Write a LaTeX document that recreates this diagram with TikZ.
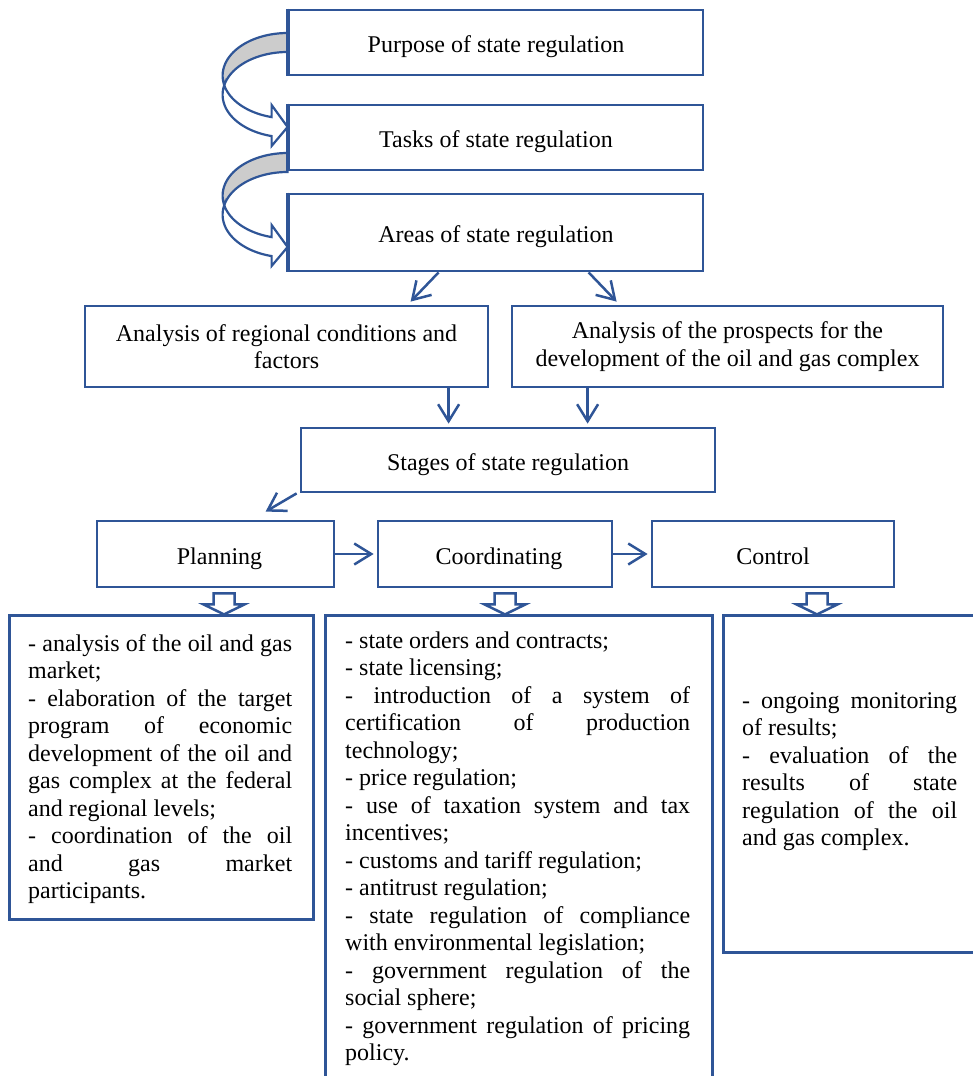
\documentclass[tikz,border=0pt]{standalone}
\usepackage{fontspec}
\setmainfont{Liberation Serif}
\usetikzlibrary{arrows.meta,calc}
\definecolor{bl}{RGB}{47,85,151}
\definecolor{bandgray}{RGB}{204,204,204}
\begin{document}
\begin{tikzpicture}[x=1pt,y=-1pt,
  font=\fontsize{24pt}{27.5pt}\selectfont,
  box/.style={draw=bl, line width=2.8pt, fill=white, inner sep=0pt, align=center},
  single/.style={text height=25pt, text depth=5pt},
  conn/.style={draw=bl, line width=2.5pt, -{Straight Barb[length=17pt,width=21pt]}},
  listtext/.style={inner sep=0pt, align=justify, anchor=base west},
  blockarrow/.pic={\draw[bl, line width=2.5pt, fill=white, line join=miter]
     (-10.5,-21) -- (10.5,-21) -- (10.5,-10) -- (20.5,-10) -- (0,0) -- (-20.5,-10) -- (-10.5,-10) -- cycle;},
  curvedarrow/.pic={
     \draw[bl, line width=2.2pt, fill=bandgray]
       plot[domain=90:192.86,samples=30,variable=\t]({65*cos(\t)},{42.7-42.7*sin(\t)})
       -- plot[domain=167.14:90,samples=30,variable=\t]({65*cos(\t)},{61.7-42.7*sin(\t)}) -- cycle;
     \draw[bl, line width=2.2pt, fill=white, line join=miter]
       plot[domain=192.86:255.75,samples=30,variable=\t]({65*cos(\t)},{42.7-42.7*sin(\t)})
       -- (-16,72) -- (0,94) -- (-16,113)
       -- plot[domain=255.75:167.14,samples=40,variable=\t]({65*cos(\t)},{61.7-42.7*sin(\t)}) -- cycle;}
]
\useasboundingbox (0,0) rectangle (973,1076);
\fill[white] (0,0) rectangle (973,1076);

% top chain
\node[box, single, minimum width=414pt, minimum height=65pt] (purpose) at (496,42.5) {Purpose of state regulation};
\node[box, single, minimum width=414pt, minimum height=65pt] (tasks) at (496,137.5) {Tasks of state regulation};
\node[box, single, minimum width=414pt, minimum height=77pt] (areas) at (496,232.5) {Areas of state regulation};

\pic at ($(purpose.west)+(0,-9.5)$) {curvedarrow};
\pic at ($(tasks.west)+(0,15.5)$) {curvedarrow};
\draw[bl, line width=2.8pt] (purpose.north west) -- (purpose.south west);
\draw[bl, line width=2.8pt] (tasks.north west) -- (tasks.south west);
\draw[bl, line width=2.8pt] (areas.north west) -- (areas.south west);

% analysis
\node[box, minimum width=403pt, minimum height=81pt] (anl) at (286.5,346.5) {Analysis of regional conditions and\\factors};
\node[box, minimum width=431pt, minimum height=81pt] (anr) at (727.5,346.5) {Analysis of the prospects for the\\development of the oil and gas complex};

% stages
\node[box, single, minimum width=414pt, minimum height=64pt] (stages) at (508,460) {Stages of state regulation};

\node[box, single, minimum width=237pt, minimum height=66pt] (plan) at (215.5,554) {\hspace*{8pt}Planning};
\node[box, single, minimum width=234pt, minimum height=66pt] (coord) at (495,554) {\hspace*{8pt}Coordinating};
\node[box, single, minimum width=242pt, minimum height=66pt] (ctrl) at (773,554) {Control};

% list boxes
\node[box, minimum width=304pt, minimum height=304pt, anchor=north west] (lbox) at (8,614) {};
\node[box, minimum width=387pt, minimum height=480pt, anchor=north west] (mbox) at (324,614) {};
\node[box, minimum width=270pt, minimum height=337pt, anchor=north west] (rbox) at (722,614) {};

\node[listtext, text width=264pt] (ltext) at (28,651) {%
- analysis of the oil and gas\linebreak market;\par
- elaboration of the target\linebreak program of economic\linebreak development of the oil and\linebreak gas complex at the federal\linebreak and regional levels;\par
- coordination of the oil\linebreak and gas market\linebreak participants.};

\node[listtext, text width=345pt] (mtext) at (345,648) {%
- state orders and contracts;\par
- state licensing;\par
- introduction of a system of\linebreak certification of production\linebreak technology;\par
- price regulation;\par
- use of taxation system and tax\linebreak incentives;\par
- customs and tariff regulation;\par
- antitrust regulation;\par
- state regulation of compliance\linebreak with environmental legislation;\par
- government regulation of the\linebreak social sphere;\par
- government regulation of pricing\linebreak policy.};

\node[listtext, text width=215pt] (rtext) at (742,708) {%
- ongoing monitoring\linebreak of results;\par
- evaluation of the\linebreak results of state\linebreak regulation of the oil\linebreak and gas complex.};

% connectors
\draw[conn] ($(areas.south west)+(151,0)$) -- ($(anl.north west)+(327,-3)$);
\draw[conn] ($(areas.south west)+(301,0)$) -- ($(anr.north west)+(106,-3)$);
\draw[conn] ($(anl.south west)+(365,0)$) -- ($(stages.north west)+(149,-3)$);
\draw[conn] ($(anr.south west)+(77,0)$) -- ($(stages.north west)+(288,-3)$);
\draw[conn] ($(stages.south west)+(-3,0)$) -- ($(plan.north west)+(170,-8)$);
\draw[conn] (plan.east) -- ($(coord.west)+(-3,0)$);
\draw[conn] (coord.east) -- ($(ctrl.west)+(-3,0)$);

% block arrows
\pic at ($(plan.south)+(8.5,26)$) {blockarrow};
\pic at ($(coord.south)+(10,26)$) {blockarrow};
\pic at ($(ctrl.south)+(44,26)$) {blockarrow};
\end{tikzpicture}
\end{document}
